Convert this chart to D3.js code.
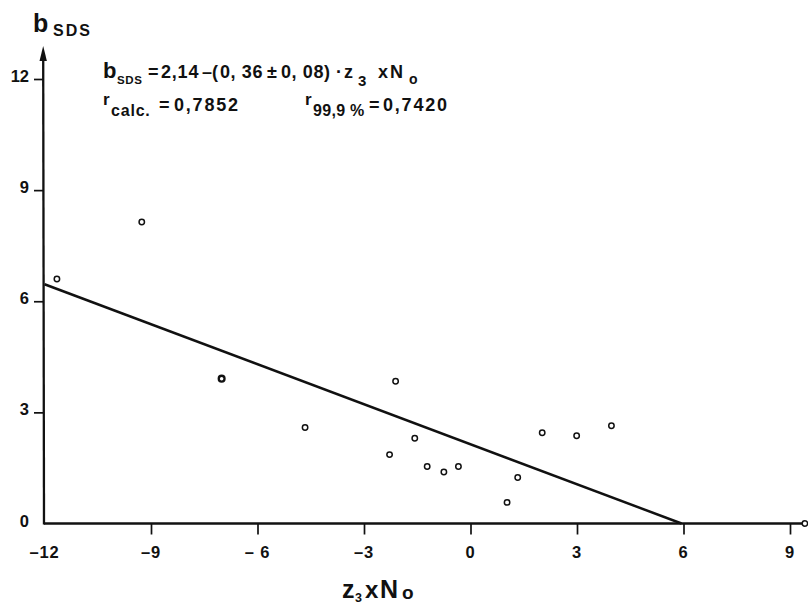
<!DOCTYPE html>
<html>
<head>
<meta charset="utf-8">
<script src="https://cdn.jsdelivr.net/npm/d3@7"></script>
<style>
  html, body { margin: 0; padding: 0; background: #fff; }
  svg { display: block; }
  text { font-family: "Liberation Sans", Arial, Helvetica, sans-serif; font-weight: bold; fill: #111; }
</style>
</head>
<body>
<svg id="chart" width="808" height="605"></svg>
<script>
// ---- data ----
const xTickValues = [-12, -9, -6, -3, 0, 3, 6, 9];
const xTickLabels = ["–12", "–9", "– 6", "–3", "0", "3", "6", "9"];
const yTickValues = [0, 3, 6, 9, 12];
const yTickLabels = ["0", "3", "6", "9", "12"];
const pointX = [-11.65, -9.26, -7.01, -4.66, -2.11, -2.28, -1.57, -1.22, -0.75, -0.34, 1.03, 1.33, 2.02, 2.99, 3.97, 9.42];
const pointY = [6.60, 8.14, 3.91, 2.59, 3.84, 1.86, 2.30, 1.54, 1.39, 1.54, 0.57, 1.24, 2.45, 2.37, 2.64, 0.00];
const heavyPoints = [2];
const fitIntercept = 2.14;
const fitSlope = -0.36;

// ---- layout ----
const W = 808, H = 605;
const svg = d3.select("#chart");
svg.append("rect").attr("width", W).attr("height", H).attr("fill", "#fff");

const x = d3.scaleLinear().domain([-12, 9]).range([44.5, 790]);
const y = d3.scaleLinear().domain([0, 12]).range([523.5, 79]);
const axisX0 = 44;

// x axis
const gx = svg.append("g").attr("transform", `translate(0,${y(0)})`)
  .call(d3.axisBottom(x).tickValues(xTickValues.filter(v => v !== -12)).tickSize(11).tickSizeOuter(0).tickFormat(""));
gx.select(".domain").remove();
gx.selectAll(".tick line").attr("stroke", "#111").attr("stroke-width", 1.7);
svg.append("line")
  .attr("x1", axisX0).attr("x2", W)
  .attr("y1", y(0)).attr("y2", y(0))
  .attr("stroke", "#111").attr("stroke-width", 2.3);
svg.append("g").selectAll("text").data(xTickValues).join("text")
  .attr("x", d => x(d)).attr("y", 558)
  .attr("text-anchor", "middle").attr("font-size", 16.5).attr("letter-spacing", 0.8)
  .text((d, i) => xTickLabels[i]);

// y axis
const gy = svg.append("g").attr("transform", `translate(${axisX0},0)`)
  .call(d3.axisLeft(y).tickValues(yTickValues.filter(v => v !== 0)).tickSize(10).tickSizeOuter(0).tickFormat(""));
gy.select(".domain").remove();
gy.selectAll(".tick line").attr("stroke", "#111").attr("stroke-width", 1.7);
svg.append("line")
  .attr("x1", axisX0).attr("x2", axisX0 - 0.8)
  .attr("y1", y(0) + 1).attr("y2", 58)
  .attr("stroke", "#111").attr("stroke-width", 2.3);
svg.append("path")
  .attr("d", `M${axisX0 - 0.8},46 L${axisX0 - 4.5},61 L${axisX0 + 2.9},61 Z`)
  .attr("fill", "#111");
svg.append("g").selectAll("text").data(yTickValues).join("text")
  .attr("x", 29).attr("y", d => y(d) + 3)
  .attr("text-anchor", "end").attr("font-size", 16.5)
  .text((d, i) => yTickLabels[i]);

// regression line
const xEnd = -fitIntercept / fitSlope;
const lineData = [-12, xEnd].map(v => [v, fitIntercept + fitSlope * v]);
svg.append("path")
  .attr("d", d3.line().x(d => x(d[0])).y(d => y(d[1]))(lineData))
  .attr("stroke", "#111").attr("stroke-width", 2.5).attr("fill", "none");

// points
svg.append("g").selectAll("circle").data(pointX.map((v, i) => [v, pointY[i], i])).join("circle")
  .attr("cx", d => x(d[0])).attr("cy", d => y(d[1]))
  .attr("r", d => heavyPoints.includes(d[2]) ? 2.9 : 2.7)
  .attr("fill", "#fff").attr("stroke", "#111")
  .attr("stroke-width", d => heavyPoints.includes(d[2]) ? 2.3 : 1.5);

// text helper
function put(parts) {
  parts.forEach(p => {
    svg.append("text").attr("x", p.x).attr("y", p.y)
      .attr("font-size", p.s).attr("letter-spacing", p.ls || 0)
      .text(p.t);
  });
}

// y-axis title
put([
  {t: "b", x: 33, y: 32, s: 25},
  {t: "SDS", x: 53, y: 36, s: 16, ls: 2}
]);

// equation line 1
put([
  {t: "b", x: 103, y: 78, s: 22},
  {t: "SDS", x: 117, y: 84, s: 11.5, ls: 0.6},
  {t: "=", x: 148, y: 78, s: 18},
  {t: "2,14", x: 161, y: 78, s: 18, ls: 0.8},
  {t: "–(", x: 202, y: 78, s: 18},
  {t: "0, 36", x: 220, y: 78, s: 18, ls: 0.6},
  {t: "±", x: 267, y: 78, s: 18},
  {t: "0, 08)", x: 281, y: 78, s: 18, ls: 0.6},
  {t: "·", x: 336, y: 78, s: 18},
  {t: "z", x: 344, y: 78, s: 18},
  {t: "3", x: 358, y: 86, s: 15},
  {t: "x", x: 378, y: 78, s: 18},
  {t: "N", x: 390, y: 78, s: 18},
  {t: "o", x: 409, y: 84, s: 14}
]);

// equation line 2
put([
  {t: "r", x: 103, y: 105, s: 17},
  {t: "calc.", x: 111, y: 116, s: 16, ls: 0.8},
  {t: "=", x: 159, y: 111, s: 18},
  {t: "0,7852", x: 174, y: 111, s: 18, ls: 1.8},
  {t: "r", x: 305, y: 105, s: 17},
  {t: "99,9 %", x: 313, y: 116, s: 16, ls: 0.3},
  {t: "=", x: 369, y: 111, s: 18},
  {t: "0,7420", x: 383, y: 111, s: 18, ls: 1.8}
]);

// x-axis title
put([
  {t: "z", x: 342, y: 598, s: 25},
  {t: "3", x: 355, y: 602, s: 12.5},
  {t: "x", x: 365, y: 598, s: 24},
  {t: "N", x: 380, y: 598, s: 25},
  {t: "o", x: 402, y: 599, s: 19}
]);
</script>
</body>
</html>
